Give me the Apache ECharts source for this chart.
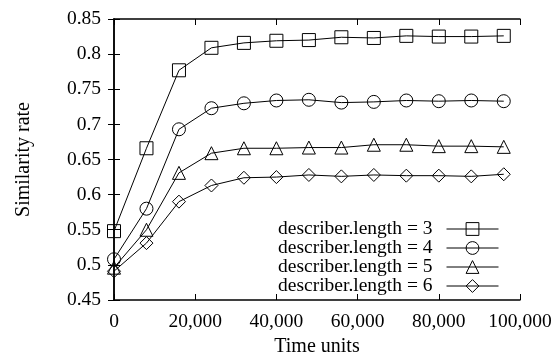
<!DOCTYPE html>
<html>
<head>
<meta charset="utf-8">
<script src="https://cdn.jsdelivr.net/npm/echarts@6/dist/echarts.min.js"></script>
<style>
    html, body { margin: 0; padding: 0; background: #fff; }
    #chart { width: 560px; height: 358px; }
</style>
</head>
<body>
<div id="chart"></div>
<script>
// time units sampled along the x axis
var timeUnits = [0, 8000, 16000, 24000, 32000, 40000, 48000, 56000, 64000, 72000, 80000, 88000, 96000];

var len3 = [0.548, 0.666, 0.777, 0.809, 0.816, 0.819, 0.820, 0.824, 0.823, 0.826, 0.825, 0.825, 0.826];
var len4 = [0.508, 0.580, 0.693, 0.723, 0.730, 0.734, 0.735, 0.731, 0.732, 0.734, 0.733, 0.734, 0.733];
var len5 = [0.496, 0.550, 0.631, 0.659, 0.666, 0.666, 0.667, 0.667, 0.671, 0.671, 0.669, 0.669, 0.668];
var len6 = [0.491, 0.531, 0.590, 0.613, 0.624, 0.625, 0.628, 0.626, 0.628, 0.627, 0.627, 0.626, 0.629];

var seriesNames = ['describer.length = 3', 'describer.length = 4', 'describer.length = 5', 'describer.length = 6'];
var seriesSymbols = ['rect', 'circle', 'triangle', 'diamond'];

var FONT = 'Liberation Serif';
var FSIZE = 19.5;

function pairs(values) {
    var out = [];
    for (var i = 0; i < timeUnits.length; i++) {
        out.push([timeUnits[i], values[i]]);
    }
    return out;
}

function makeSeries(name, symbol, values) {
    return {
        name: name,
        type: 'line',
        data: pairs(values),
        symbol: symbol,
        symbolSize: 13,
        showAllSymbol: true,
        lineStyle: { color: '#000', width: 1 },
        itemStyle: { color: 'transparent', borderColor: '#000', borderWidth: 1 },
        emphasis: { disabled: true }
    };
}

var chart = echarts.init(document.getElementById('chart'));

var option = {
    animation: false,
    grid: {
        left: 114,
        right: 40,
        top: 19,
        bottom: 58,
        outerBoundsMode: 'none'
    },
    legend: {
        orient: 'vertical',
        right: 61,
        top: 219,
        padding: 0,
        align: 'right',
        itemWidth: 52,
        itemHeight: 16,
        itemGap: -1,
        selectedMode: false,
        itemStyle: { borderWidth: 1 },
        lineStyle: { width: 1 },
        textStyle: { fontFamily: FONT, fontSize: FSIZE, lineHeight: 18, color: '#000', padding: [0, 9, 0, 0] },
        data: seriesNames
    },
    xAxis: [
        {
            type: 'value',
            min: 0,
            max: 100000,
            interval: 20000,
            name: 'Time units',
            nameLocation: 'middle',
            nameGap: 35,
            nameTextStyle: { fontFamily: FONT, fontSize: 20, color: '#000' },
            axisLine: { lineStyle: { color: '#000', width: 1.5 } },
            axisTick: { inside: true, length: 6, lineStyle: { color: '#000' } },
            splitLine: { show: false },
            axisLabel: {
                fontFamily: FONT, fontSize: FSIZE, color: '#000', margin: 12,
                formatter: function (v) { return v.toLocaleString('en-US'); }
            }
        },
        {
            type: 'value',
            position: 'top',
            min: 0,
            max: 100000,
            interval: 20000,
            axisLine: { lineStyle: { color: '#000', width: 1.5 } },
            axisTick: { inside: true, length: 6, lineStyle: { color: '#000' } },
            splitLine: { show: false },
            axisLabel: { show: false }
        }
    ],
    yAxis: [
        {
            type: 'value',
            min: 0.45,
            max: 0.85,
            interval: 0.05,
            name: 'Similarity rate',
            nameLocation: 'middle',
            nameGap: 80,
            nameTextStyle: { fontFamily: FONT, fontSize: 20, color: '#000' },
            axisLine: { show: true, lineStyle: { color: '#000', width: 1.5 } },
            axisTick: { show: true, inside: true, length: 6, lineStyle: { color: '#000' } },
            splitLine: { show: false },
            axisLabel: {
                fontFamily: FONT, fontSize: FSIZE, color: '#000', margin: 13,
                formatter: function (v) { return String(parseFloat(v.toFixed(2))); }
            }
        },
        {
            type: 'value',
            position: 'right',
            min: 0.45,
            max: 0.85,
            interval: 0.05,
            axisLine: { show: true, lineStyle: { color: '#000', width: 1.5 } },
            axisTick: { show: true, inside: true, length: 6, lineStyle: { color: '#000' } },
            splitLine: { show: false },
            axisLabel: { show: false }
        }
    ],
    series: [
        makeSeries(seriesNames[0], seriesSymbols[0], len3),
        makeSeries(seriesNames[1], seriesSymbols[1], len4),
        makeSeries(seriesNames[2], seriesSymbols[2], len5),
        makeSeries(seriesNames[3], seriesSymbols[3], len6)
    ]
};

chart.setOption(option);
</script>
</body>
</html>
